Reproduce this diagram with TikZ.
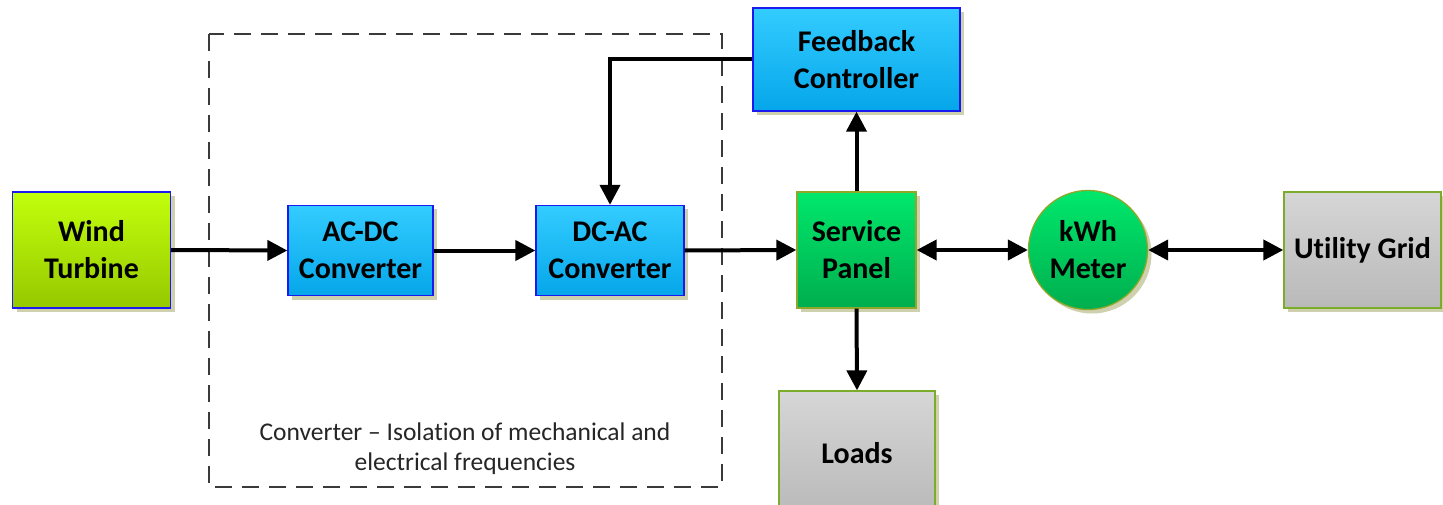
\documentclass[tikz,border=0pt]{standalone}
\usepackage{fontspec}
\setmainfont[Ligatures=NoCommon]{Carlito}
\usetikzlibrary{arrows.meta,shadows,shapes.geometric}

\definecolor{limeTop}{HTML}{C2FF0C}
\definecolor{limeBot}{HTML}{96C800}
\definecolor{blueTop}{HTML}{33CCFF}
\definecolor{blueBot}{HTML}{05A6EA}
\definecolor{blueEdge}{HTML}{1A1AF0}
\definecolor{greenTop}{HTML}{00E86C}
\definecolor{greenBot}{HTML}{00AE4E}
\definecolor{oliveEdge}{HTML}{8FA82A}
\definecolor{grayTop}{HTML}{D6D6D6}
\definecolor{grayBot}{HTML}{B9B9B9}
\definecolor{grayEdge}{HTML}{7AAE2A}
\definecolor{shadowCol}{HTML}{C9CBA6}
\definecolor{dashCol}{HTML}{3A3A3A}

\tikzset{
  blk/.style={rectangle, inner sep=2pt, align=center, line width=1.3pt,
    font=\fontsize{30}{37}\selectfont\bfseries,
    drop shadow={shadow xshift=4pt, shadow yshift=-4pt, fill=shadowCol, opacity=0.9}},
  limebox/.style={blk, draw=blueEdge, top color=limeTop, bottom color=limeBot},
  bluebox/.style={blk, draw=blueEdge, top color=blueTop, bottom color=blueBot},
  greenbox/.style={blk, draw=oliveEdge, top color=greenTop, bottom color=greenBot},
  graybox/.style={blk, draw=grayEdge, top color=grayTop, bottom color=grayBot},
  tip/.style={Triangle[length=20pt,width=20pt]},
  flow/.style={line width=4pt, black, -{Triangle[length=20pt,width=20pt]}},
  flow2/.style={line width=4pt, black, {Triangle[length=20pt,width=20pt]}-{Triangle[length=20pt,width=20pt]}},
  grouping/.style={draw=dashCol, line width=1.3pt, dash pattern=on 17pt off 10pt},
  caption/.style={font=\fontsize{25.5}{30}\selectfont, text=black!85, align=center}
}

\begin{document}
\begin{tikzpicture}[x=1pt, y=-1pt]
  \clip (0,0) rectangle (1443,505);
  \fill[white] (0,0) rectangle (1443,505);

  % converter grouping frame and its caption
  \draw[grouping] (209,34) rectangle (722,487);
  \node[caption] (cap) at (465,449) {Converter -- Isolation of mechanical and\\electrical frequencies};

  % blocks
  \node[limebox, minimum width=158pt, minimum height=116pt] (wt) at (91.5,250) {Wind\\Turbine};
  \node[bluebox, minimum width=145pt, minimum height=90pt] (acdc) at (360.5,250.5) {AC-DC\\Converter};
  \node[bluebox, minimum width=148pt, minimum height=90pt] (dcac) at (610,250.5) {DC-AC\\Converter};
  \node[bluebox, minimum width=207pt, minimum height=103pt] (fb) at (856.5,59.5) {Feedback\\Controller};
  \node[greenbox, minimum width=119pt, minimum height=116pt] (sp) at (856.5,250) {Service\\Panel};
  \node[greenbox, circle, minimum size=119pt, inner sep=0pt] (kwh) at (1088,250) {kWh\\Meter};
  \node[graybox, minimum width=157pt, minimum height=116pt] (ug) at (1362.5,250) {Utility Grid};
  \node[graybox, minimum width=156pt, minimum height=124pt] (loads) at (857,453) {Loads};

  % signal and power flow
  \draw[flow] (wt.east) -- (acdc.west);
  \draw[flow] (acdc.east) -- (dcac.west);
  \draw[flow] (dcac.east) -- (sp.west);
  \draw[flow] (sp.north) -- (fb.south);
  \draw[flow] (fb.west) -| (dcac.north);
  \draw[flow] (sp.south) -- (loads.north);
  \draw[flow2] (sp.east) -- (kwh.west);
  \draw[flow2] (kwh.east) -- (ug.west);
\end{tikzpicture}
\end{document}
